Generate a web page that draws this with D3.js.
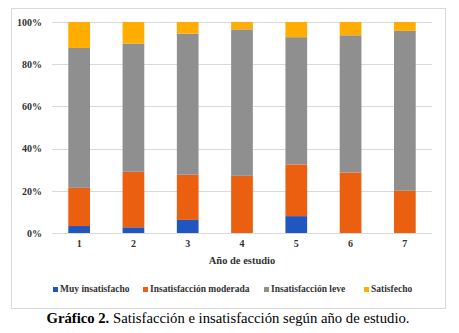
<!DOCTYPE html>
<html>
<head>
<meta charset="utf-8">
<script src="https://cdn.jsdelivr.net/npm/d3@7"></script>
<style>
  html, body { margin: 0; padding: 0; background: #fff; }
  svg { display: block; }
</style>
</head>
<body>
<svg id="chart" width="459" height="333"></svg>
<script>
// datos: porcentaje por año de estudio
const years = ["1", "2", "3", "4", "5", "6", "7"];
const series = ["Muy insatisfacho", "Insatisfacción moderada", "Insatisfacción leve", "Satisfecho"];
const muyInsatisfecho = [3.3, 2.7, 6.2, 0, 8.0, 0, 0];
const moderada = [18.1, 26.3, 21.4, 27.1, 24.5, 28.7, 20.0];
const leve = [66.3, 60.8, 66.9, 69.4, 60.3, 65.0, 75.8];
const satisfecho = [12.3, 10.2, 5.5, 3.5, 7.2, 6.3, 4.2];
const yTicks = [0, 20, 40, 60, 80, 100];
const colors = ["#1f56c0", "#eb6010", "#8f8f8f", "#ffad00"];

const rows = years.map((y, i) => ({
  year: y,
  [series[0]]: muyInsatisfecho[i],
  [series[1]]: moderada[i],
  [series[2]]: leve[i],
  [series[3]]: satisfecho[i]
}));

const svg = d3.select("#chart");
const font = "'Liberation Serif', 'Times New Roman', serif";

// marco del gráfico
svg.append("rect")
  .attr("x", 11.5).attr("y", 8.5)
  .attr("width", 434).attr("height", 300)
  .attr("fill", "#fff")
  .attr("stroke", "#d9d9d9");

const x = d3.scaleBand().domain(years).range([52, 432]).paddingInner(0.6).paddingOuter(0.3);
const y = d3.scaleLinear().domain([0, 100]).range([233, 22]);

// líneas de cuadrícula
svg.append("g")
  .selectAll("line")
  .data(yTicks)
  .join("line")
  .attr("x1", 52).attr("x2", 432)
  .attr("y1", d => Math.round(y(d)) + 0.5)
  .attr("y2", d => Math.round(y(d)) + 0.5)
  .attr("stroke", "#d9d9d9");

// eje Y
svg.append("g")
  .attr("transform", "translate(52,0)")
  .call(d3.axisLeft(y).tickValues(yTicks).tickFormat(d => d + "%").tickSize(0).tickPadding(10))
  .call(g => g.select(".domain").remove())
  .selectAll("text")
  .attr("font-family", font)
  .attr("font-weight", "bold")
  .attr("font-size", 10)
  .attr("fill", "#333");

// eje X
svg.append("g")
  .attr("transform", `translate(0,${y(0)})`)
  .call(d3.axisBottom(x).tickSize(0).tickPadding(7))
  .call(g => g.select(".domain").remove())
  .selectAll("text")
  .attr("font-family", font)
  .attr("font-weight", "bold")
  .attr("font-size", 10)
  .attr("fill", "#333");

// barras apiladas
const stack = d3.stack().keys(series)(rows);
svg.append("g")
  .selectAll("g")
  .data(stack)
  .join("g")
  .attr("fill", (d, i) => colors[i])
  .selectAll("rect")
  .data(d => d)
  .join("rect")
  .attr("x", d => x(d.data.year))
  .attr("width", x.bandwidth())
  .attr("y", d => y(d[1]))
  .attr("height", d => y(d[0]) - y(d[1]));

// título del eje X
svg.append("text")
  .attr("x", 242).attr("y", 264)
  .attr("text-anchor", "middle")
  .attr("font-family", font)
  .attr("font-weight", "bold")
  .attr("font-size", 10.5)
  .attr("fill", "#333")
  .text("Año de estudio");

// leyenda
const legendX = [53, 143, 264, 364];
const legend = svg.append("g")
  .selectAll("g")
  .data(series)
  .join("g")
  .attr("transform", (d, i) => `translate(${legendX[i]},292)`);
legend.append("rect")
  .attr("x", 0).attr("y", -5)
  .attr("width", 5).attr("height", 5)
  .attr("fill", (d, i) => colors[i]);
legend.append("text")
  .attr("x", 7).attr("y", 0)
  .attr("font-family", font)
  .attr("font-weight", "bold")
  .attr("font-size", 9.5)
  .attr("fill", "#333")
  .text(d => d);

// pie de figura
const caption = svg.append("text")
  .attr("x", 228).attr("y", 323)
  .attr("text-anchor", "middle")
  .attr("font-family", font)
  .attr("font-size", 14.7)
  .attr("fill", "#000");
caption.append("tspan").attr("font-weight", "bold").text("Gráfico 2.");
caption.append("tspan").text(" Satisfacción e insatisfacción según año de estudio.");
</script>
</body>
</html>
